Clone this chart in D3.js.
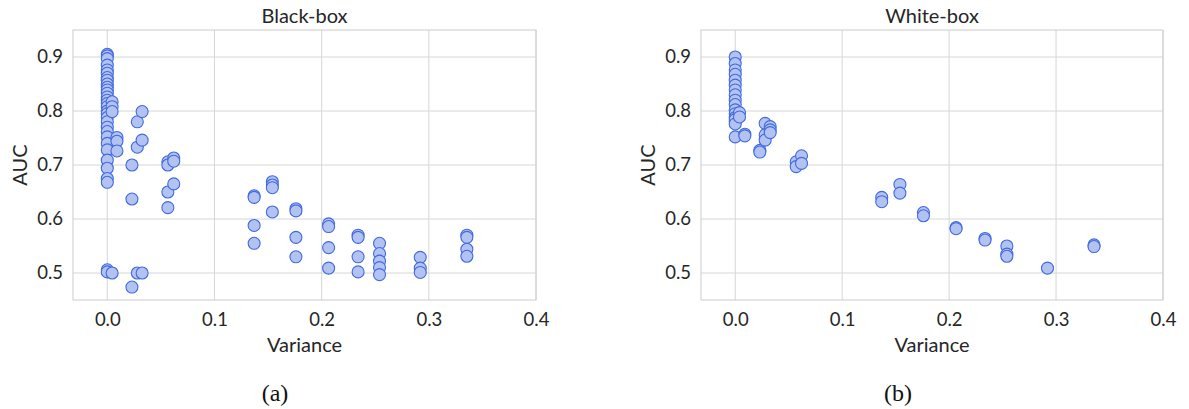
<!DOCTYPE html>
<html>
<head>
<meta charset="utf-8">
<script src="https://cdn.jsdelivr.net/npm/d3@7/dist/d3.min.js"></script>
<style>
  body { margin: 0; background: #fff; }
  svg { display: block; }
  .tick text { font-family: Lato, "Open Sans", sans-serif; font-size: 18.5px; fill: #262626; }
</style>
</head>
<body>
<svg id="chart" width="1189" height="409"></svg>
<script>
// Black-box attack: variance of the prediction vs AUC
const blackVariance = [
  0, 0, 0, 0, 0, 0, 0, 0, 0, 0, 0, 0, 0, 0, 0, 0, 0, 0, 0, 0, 0, 0, 0, 0, 0, 0, 0, 0, 0, 0, 0,
  0.0045, 0.0045, 0.0045, 0.0045,
  0.009, 0.009, 0.009,
  0.023, 0.023, 0.023,
  0.028, 0.028, 0.028,
  0.0325, 0.0325, 0.0325,
  0.0565, 0.0565, 0.0565, 0.0565,
  0.062, 0.062, 0.062,
  0.137, 0.137, 0.137, 0.137,
  0.154, 0.154, 0.154, 0.154,
  0.176, 0.176, 0.176, 0.176,
  0.2065, 0.2065, 0.2065, 0.2065,
  0.234, 0.234, 0.234, 0.234,
  0.254, 0.254, 0.254, 0.254, 0.254,
  0.292, 0.292, 0.292,
  0.3355, 0.3355, 0.3355, 0.3355
];
const blackAUC = [
  0.905, 0.902, 0.897, 0.885, 0.876, 0.870, 0.862, 0.857, 0.850, 0.844, 0.839, 0.833, 0.826, 0.820, 0.814,
  0.808, 0.800, 0.795, 0.788, 0.780, 0.770, 0.762, 0.752, 0.740, 0.728, 0.709, 0.694, 0.675, 0.668,
  0.506, 0.502,
  0.817, 0.808, 0.799, 0.500,
  0.751, 0.744, 0.726,
  0.700, 0.637, 0.474,
  0.780, 0.733, 0.500,
  0.799, 0.746, 0.500,
  0.706, 0.700, 0.650, 0.621,
  0.713, 0.707, 0.665,
  0.643, 0.640, 0.588, 0.555,
  0.669, 0.663, 0.658, 0.613,
  0.619, 0.615, 0.566, 0.530,
  0.591, 0.586, 0.547, 0.509,
  0.570, 0.566, 0.530, 0.502,
  0.555, 0.536, 0.522, 0.510, 0.497,
  0.529, 0.509, 0.501,
  0.570, 0.566, 0.544, 0.531
];

// White-box attack: variance of the prediction vs AUC
const whiteVariance = [
  0, 0, 0, 0, 0, 0, 0, 0, 0, 0, 0, 0, 0, 0, 0, 0, 0,
  0.004, 0.004,
  0.009, 0.009,
  0.023, 0.023,
  0.028, 0.028, 0.028,
  0.0327, 0.0327, 0.0327,
  0.057, 0.057,
  0.062, 0.062,
  0.137, 0.137,
  0.154, 0.154,
  0.176, 0.176,
  0.2065, 0.2065,
  0.2336, 0.2336,
  0.254, 0.254, 0.254,
  0.292,
  0.3355, 0.3355
];
const whiteAUC = [
  0.900, 0.888, 0.876, 0.868, 0.857, 0.848, 0.839, 0.830, 0.820, 0.812, 0.802, 0.795, 0.788, 0.780, 0.784, 0.776, 0.752,
  0.797, 0.789,
  0.757, 0.754,
  0.727, 0.724,
  0.777, 0.756, 0.746,
  0.771, 0.765, 0.760,
  0.706, 0.697,
  0.717, 0.703,
  0.640, 0.632,
  0.664, 0.648,
  0.612, 0.606,
  0.584, 0.582,
  0.564, 0.561,
  0.550, 0.535, 0.531,
  0.509,
  0.552, 0.549
];

const xTicks = [0.0, 0.1, 0.2, 0.3, 0.4];
const yTicks = [0.5, 0.6, 0.7, 0.8, 0.9];

const panels = [
  { title: "Black-box", caption: "(a)", captionX: 275, variance: blackVariance, auc: blackAUC, left: 73, right: 536 },
  { title: "White-box", caption: "(b)", captionX: 898, variance: whiteVariance, auc: whiteAUC, left: 701, right: 1163 }
];

const svg = d3.select("#chart");
const plotTop = 30, plotBottom = 300;
const gridColor = "#d6d6d6";
const textColor = "#262626";
const sansFont = "Lato, 'Open Sans', sans-serif";

panels.forEach(p => {
  const x = d3.scaleLinear().domain([-0.032, 0.4]).range([p.left, p.right]);
  const y = d3.scaleLinear().domain([0.45, 0.95]).range([plotBottom, plotTop]);
  const g = svg.append("g");

  // grid
  g.append("g").selectAll("line").data(xTicks).join("line")
    .attr("x1", d => x(d)).attr("x2", d => x(d))
    .attr("y1", plotTop).attr("y2", plotBottom)
    .attr("stroke", gridColor).attr("stroke-width", 1);
  g.append("g").selectAll("line").data(yTicks).join("line")
    .attr("x1", p.left).attr("x2", p.right)
    .attr("y1", d => y(d)).attr("y2", d => y(d))
    .attr("stroke", gridColor).attr("stroke-width", 1);

  // frame
  g.append("rect")
    .attr("x", p.left).attr("y", plotTop)
    .attr("width", p.right - p.left).attr("height", plotBottom - plotTop)
    .attr("fill", "none").attr("stroke", "#cccccc").attr("stroke-width", 1);

  // axes (labels only)
  const xAxis = g.append("g").attr("transform", `translate(0,${plotBottom})`)
    .call(d3.axisBottom(x).tickValues(xTicks).tickFormat(d3.format(".1f")).tickSize(0).tickPadding(13));
  xAxis.select(".domain").remove();
  const yAxis = g.append("g").attr("transform", `translate(${p.left},0)`)
    .call(d3.axisLeft(y).tickValues(yTicks).tickFormat(d3.format(".1f")).tickSize(0).tickPadding(10));
  yAxis.select(".domain").remove();

  // points
  g.append("g").selectAll("circle").data(p.variance.map((v, i) => [v, p.auc[i]])).join("circle")
    .attr("cx", d => x(d[0])).attr("cy", d => y(d[1])).attr("r", 6)
    .attr("fill", "#b3c3f1").attr("stroke", "#4169e1").attr("stroke-width", 1.1);

  const cx = (p.left + p.right) / 2;
  g.append("text").attr("x", cx).attr("y", 22.5).attr("text-anchor", "middle")
    .attr("font-family", sansFont).attr("font-size", 20).attr("fill", textColor).text(p.title);
  g.append("text").attr("x", cx).attr("y", 352).attr("text-anchor", "middle")
    .attr("font-family", sansFont).attr("font-size", 20).attr("fill", textColor).text("Variance");
  g.append("text").attr("transform", `translate(${p.left - 46},${(plotTop + plotBottom) / 2}) rotate(-90)`)
    .attr("text-anchor", "middle").attr("font-family", sansFont).attr("font-size", 20).attr("fill", textColor).text("AUC");
  g.append("text").attr("x", p.captionX).attr("y", 401).attr("text-anchor", "middle")
    .attr("font-family", "'Liberation Serif', 'DejaVu Serif', serif").attr("font-size", 24).attr("fill", "#111").text(p.caption);
});
</script>
</body>
</html>
